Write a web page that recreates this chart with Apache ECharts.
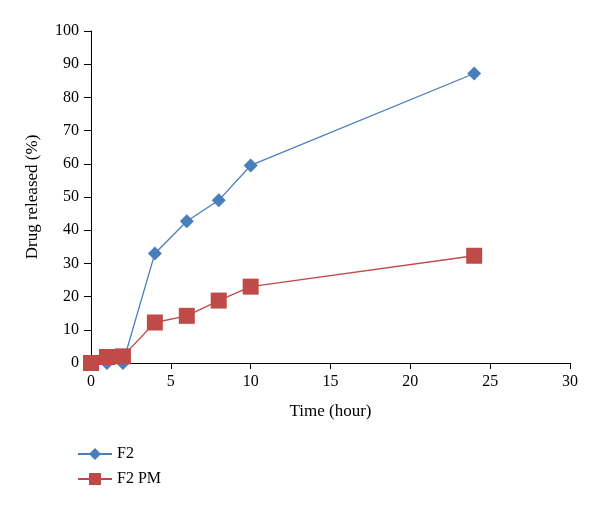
<!DOCTYPE html>
<html><head><meta charset="utf-8">
<script src="https://cdn.jsdelivr.net/npm/echarts@6/dist/echarts.min.js"></script>
<style>html,body{margin:0;padding:0;background:#fff}#c{width:600px;height:508px}</style>
</head><body><div id="c"></div>
<script>
const timeHours = [0, 1, 2, 4, 6, 8, 10, 24];
const f2Values = [0, 0, 0, 33, 42.7, 49, 59.5, 87.2];
const f2pmValues = [0, 1.8, 2, 12.2, 14.2, 18.8, 23, 32.3];
const seriesNames = ['F2', 'F2 PM'];

const font = 'Liberation Serif';
const chart = echarts.init(document.getElementById('c'));
chart.setOption({
  animation: false,
  grid: {left: 91, right: 30, top: 31, bottom: 145},
  legend: {
    orient: 'vertical', left: 72, top: 441, itemGap: 9,
    itemWidth: 34, itemHeight: 15,
    textStyle: {fontFamily: font, fontSize: 16, color: '#000'},
    data: seriesNames
  },
  xAxis: {
    type: 'value', min: 0, max: 30, interval: 5,
    name: 'Time (hour)', nameLocation: 'middle', nameGap: 40,
    nameTextStyle: {fontFamily: font, fontSize: 17, color: '#000'},
    axisLine: {lineStyle: {color: '#000', width: 1}},
    axisTick: {show: true, length: 6, lineStyle: {color: '#000'}},
    axisLabel: {fontFamily: font, fontSize: 16, color: '#000', margin: 11},
    splitLine: {show: false}
  },
  yAxis: {
    type: 'value', min: 0, max: 100, interval: 10,
    name: 'Drug released (%)', nameLocation: 'middle', nameGap: 50,
    nameTextStyle: {fontFamily: font, fontSize: 17, color: '#000'},
    axisLine: {show: true, lineStyle: {color: '#000', width: 1}},
    axisTick: {show: true, length: 7, lineStyle: {color: '#000'}},
    axisLabel: {fontFamily: font, fontSize: 16, color: '#000', margin: 12},
    splitLine: {show: false}
  },
  series: [
    {
      name: seriesNames[0], type: 'line', symbol: 'diamond', symbolSize: 14,
      itemStyle: {color: '#4a7ebb'}, lineStyle: {color: '#4a7ebb', width: 1.3},
      data: timeHours.map((t, i) => [t, f2Values[i]]), z: 2
    },
    {
      name: seriesNames[1], type: 'line', symbol: 'rect', symbolSize: 16,
      itemStyle: {color: '#be4b48'}, lineStyle: {color: '#be4b48', width: 1.3},
      data: timeHours.map((t, i) => [t, f2pmValues[i]]), z: 3
    }
  ]
});
</script></body></html>
